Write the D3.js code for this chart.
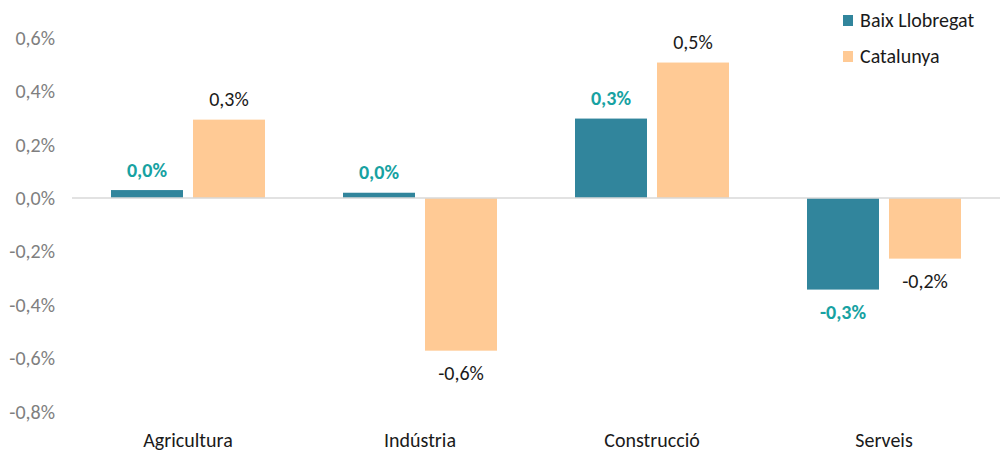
<!DOCTYPE html>
<meta charset="utf-8">
<script src="https://cdn.jsdelivr.net/npm/d3@7"></script>
<style>
  body { margin: 0; background: #fff; }
  text { font-family: Carlito, "Open Sans", "Noto Sans", sans-serif; }
</style>
<body>
<script>

var width = 1006
var height = 451

// data
var categories = ["Agricultura", "Indústria", "Construcció", "Serveis"]
var seriesNames = ["Baix Llobregat", "Catalunya"]
var baix = [0.03, 0.02, 0.298, -0.343]
var catalunya = [0.294, -0.572, 0.508, -0.227]
var yTicks = [0.6, 0.4, 0.2, 0.0, -0.2, -0.4, -0.6, -0.8]

var colors = ["#31859c", "#ffca95"]
var labelColors = ["#17a2a2", "#1a1a1a"]

var rows = categories.map(function(c, i) {
  return { cat: c, values: [baix[i], catalunya[i]] }
})

var x = d3.scaleBand().domain(categories).range([72, 1000]).paddingInner(0).paddingOuter(0)
var xs = d3.scaleBand().domain([0, 1]).range([39, 193]).paddingInner(0.122)
var y = d3.scaleLinear().domain([-0.8, 0.6]).range([411.5, 38])

var fmt = function(v) { return d3.format(".1f")(v).replace(".", ",").replace("\u2212", "-") + "%" }

var svg = d3.select("body").append("svg")
            .attr("width", width)
            .attr("height", height)

// y axis labels
svg.append("g").selectAll("text")
   .data(yTicks)
   .enter().append("text")
   .attr("x", 55)
   .attr("y", function(d) { return y(d) + 7 })
   .attr("text-anchor", "end")
   .attr("fill", "#7f7f7f")
   .style("font-size", "20px")
   .text(function(d) { return fmt(d) })

// bars
var groups = svg.append("g").selectAll("g")
   .data(rows)
   .enter().append("g")
   .attr("transform", function(d) { return "translate(" + x(d.cat) + ",0)" })

groups.selectAll("rect")
   .data(function(d) { return d.values.map(function(v, k) { return { k: k, v: v } }) })
   .enter().append("rect")
   .attr("x", function(d) { return xs(d.k) })
   .attr("width", xs.bandwidth())
   .attr("y", function(d) { return y(Math.max(0, d.v)) })
   .attr("height", function(d) { return Math.abs(y(d.v) - y(0)) })
   .attr("fill", function(d) { return colors[d.k] })

// zero line
svg.append("line")
   .attr("x1", 72).attr("x2", 1000)
   .attr("y1", y(0)).attr("y2", y(0))
   .attr("stroke", "#d9d9d9")
   .attr("stroke-width", 1.5)

// value labels
groups.selectAll("text.val")
   .data(function(d) { return d.values.map(function(v, k) { return { k: k, v: v } }) })
   .enter().append("text")
   .attr("class", "val")
   .attr("x", function(d) { return xs(d.k) + xs.bandwidth() / 2 })
   .attr("y", function(d) { return d.v >= 0 ? y(d.v) - 13.5 : y(d.v) + 29.5 })
   .attr("text-anchor", "middle")
   .attr("fill", function(d) { return labelColors[d.k] })
   .style("font-size", "20px")
   .style("font-weight", function(d) { return d.k == 0 ? "bold" : "normal" })
   .text(function(d) { return fmt(d.v) })

// category labels
svg.append("g").selectAll("text")
   .data(categories)
   .enter().append("text")
   .attr("x", function(d) { return x(d) + x.bandwidth() / 2 })
   .attr("y", 447)
   .attr("text-anchor", "middle")
   .attr("fill", "#1a1a1a")
   .style("font-size", "20px")
   .text(function(d) { return d })

// legend
var legend = svg.append("g").selectAll("g")
   .data(seriesNames)
   .enter().append("g")
   .attr("transform", function(d, i) { return "translate(843," + (15 + i * 36) + ")" })

legend.append("rect")
   .attr("width", 10).attr("height", 11)
   .attr("fill", function(d, i) { return colors[i] })

legend.append("text")
   .attr("x", 17).attr("y", 12)
   .attr("fill", "#1a1a1a")
   .style("font-size", "20px")
   .text(function(d) { return d })

</script>
</body>
